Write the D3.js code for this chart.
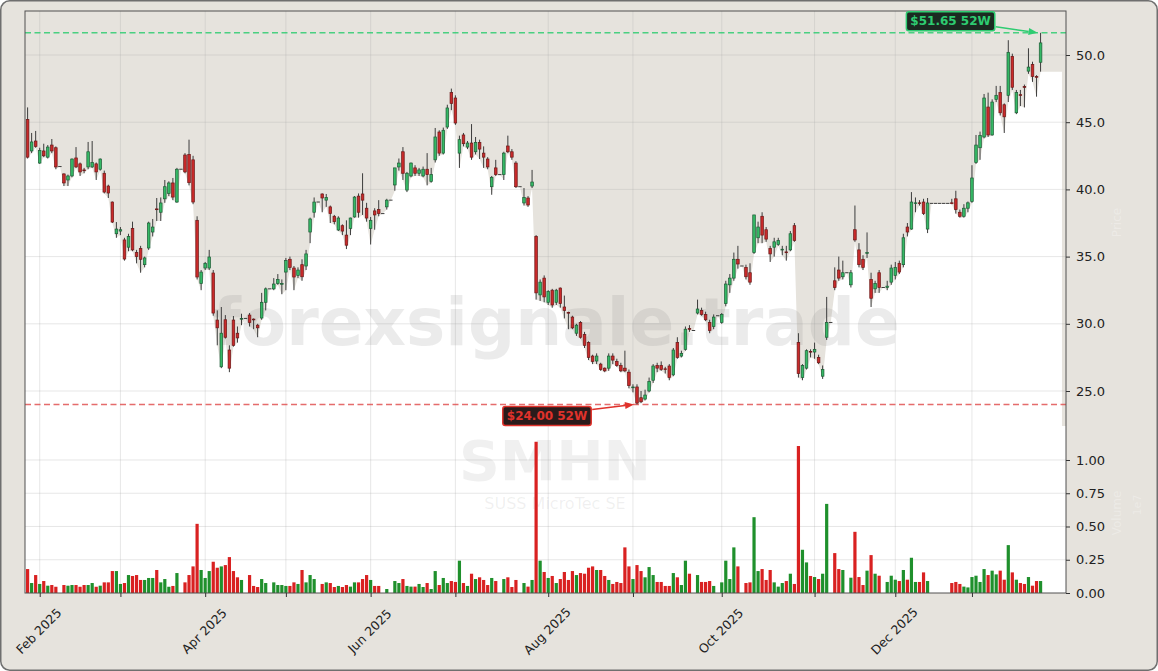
<!DOCTYPE html>
<html><head><meta charset="utf-8">
<script src="https://cdn.jsdelivr.net/npm/d3@7/dist/d3.min.js"></script>
<style>
html,body{margin:0;padding:0;background:#ffffff;}
svg{display:block;font-family:"DejaVu Sans","Liberation Sans",sans-serif;}
</style>
</head><body>
<svg id="chart" width="1158" height="671"></svg>
<script>
// ---------------- DATA ----------------
const startDate = "2025-01-29";
const holidays = ["2025-04-18","2025-04-21","2025-05-01","2025-12-24","2025-12-25","2025-12-26","2025-12-31","2026-01-01"];

const openP = [45.2,42.86,43.6,41.96,42.86,42.4,43.3,43.1,41.7,41.15,40.7,41.0,42.34,41.9,41.45,41.67,41.67,41.9,41.5,41.2,
40.25,39.06,36.7,36.9,36.24,35.7,37.1,35.3,35.6,34.4,35.64,36.83,38.55,38.3,39.3,39.7,40.48,39.06,41.5,42.56,
42.6,42.2,37.7,33.0,34.15,34.15,33.78,30.28,26.8,30.3,28.05,30.28,29.3,30.35,30.4,30.65,30.35,29.9,30.43,31.6,
32.6,32.6,33.0,32.95,33.85,34.8,34.15,33.6,34.4,34.3,36.83,38.3,39.06,39.66,39.2,38.7,38.0,36.98,37.3,36.6,
37.1,37.95,39.5,39.66,38.6,37.1,38.4,38.5,38.2,38.7,39.2,40.33,41.67,42.8,39.95,41.0,41.6,41.2,41.0,41.5,
40.6,42.2,44.27,42.7,44.64,47.2,46.8,42.7,44.05,43.15,43.45,42.8,43.5,42.7,42.26,40.2,41.6,41.1,41.1,43.23,
42.8,41.96,40.2,38.99,39.36,40.25,36.5,32.15,33.4,31.6,32.5,31.6,32.66,31.25,30.85,30.5,29.3,30.1,29.2,28.6,
27.6,27.23,27.0,26.7,26.7,27.6,27.2,26.9,26.7,26.4,25.25,25.3,24.5,24.4,25.0,25.8,26.9,26.9,26.65,26.86,
26.2,28.6,27.6,28.1,29.65,29.5,30.8,31.0,30.7,30.1,29.8,30.6,30.1,31.5,32.9,33.4,34.8,34.3,34.2,33.8,
35.3,36.4,38.0,37.0,35.6,35.7,35.9,35.5,35.35,35.5,37.3,28.6,26.0,26.7,27.95,27.9,27.5,26.1,29.0,30.1,
33.2,34.0,33.5,33.8,32.9,37.0,35.5,34.8,35.25,33.3,32.6,33.8,32.7,32.7,33.1,33.6,34.5,34.4,37.2,37.05,
38.95,39.0,39.06,37.05,38.96,38.96,38.96,38.96,38.96,39.0,39.3,38.3,38.0,38.6,39.1,42.0,43.1,43.9,46.13,44.05,
46.7,47.2,46.3,47.0,49.9,45.7,47.05,47.65,48.8,49.3,48.4,49.46];

const highP = [46.1,44.2,44.35,43.1,43.4,43.3,43.75,43.2,41.7,41.2,41.1,42.3,43.15,42.0,41.6,43.53,43.6,42.0,42.3,41.4,
40.35,39.1,37.57,37.2,36.4,36.7,37.6,35.5,35.8,35.0,37.6,37.8,39.36,39.4,40.7,40.6,40.85,41.6,41.5,42.7,
43.7,42.5,38.0,34.0,34.6,35.5,34.0,31.0,31.25,30.65,28.4,30.58,29.8,30.75,30.4,30.8,30.4,30.0,32.3,32.7,
32.6,33.4,33.7,33.3,34.9,35.0,34.3,34.2,34.8,35.5,37.9,39.4,39.06,39.7,39.66,38.8,38.1,38.0,37.4,37.7,
37.9,39.5,39.7,41.2,39.0,37.95,38.6,39.2,38.2,39.3,39.2,41.6,42.3,43.15,41.3,42.0,41.8,41.6,41.7,42.7,
41.6,44.57,44.4,44.6,46.3,47.5,47.0,44.0,44.2,43.6,44.86,43.9,43.7,43.2,42.4,41.0,42.2,41.1,42.8,44.0,
43.0,42.1,40.2,40.1,39.5,41.45,36.6,33.3,33.6,32.5,32.6,32.6,32.7,32.1,30.9,30.6,30.0,30.2,29.4,28.7,
27.7,27.8,27.1,26.75,27.8,27.8,27.4,27.1,28.0,26.6,25.5,25.5,25.0,25.1,26.0,27.0,27.1,27.2,26.8,27.0,
28.2,29.0,28.0,29.8,29.9,29.5,31.8,31.2,30.9,30.3,30.7,30.6,30.8,33.2,33.7,35.3,35.8,34.3,34.4,34.5,
38.1,37.6,38.3,37.2,35.8,36.4,36.4,35.8,35.8,36.9,37.5,29.3,27.0,28.1,28.1,28.6,27.7,26.9,32.0,30.1,
34.2,35.0,34.7,33.8,34.0,38.8,36.0,35.1,36.8,33.8,33.2,34.0,32.7,33.2,34.4,34.6,34.7,36.7,37.5,39.8,
39.4,39.2,39.3,39.36,38.96,38.96,38.96,38.96,38.96,39.3,39.9,38.5,38.9,39.1,41.8,44.05,44.3,47.1,47.2,46.7,
47.7,47.7,46.4,51.1,50.1,47.4,47.4,47.8,50.5,49.5,48.5,51.65];

const lowP = [42.3,42.7,43.1,41.9,42.4,42.3,42.7,41.5,41.7,40.25,40.25,40.9,41.6,41.0,41.2,41.5,41.6,40.7,41.4,39.7,
39.36,37.5,36.4,36.6,34.7,35.4,35.4,34.5,33.8,34.2,35.5,36.5,37.65,37.65,39.0,39.5,39.2,39.0,41.5,41.2,
40.3,38.9,33.3,32.5,34.0,34.0,30.6,28.4,26.7,28.9,26.4,28.3,28.6,29.9,30.4,29.8,29.6,29.0,30.3,31.0,
32.6,32.5,32.9,32.2,32.5,34.0,32.5,33.4,33.2,34.0,36.0,37.9,39.06,38.3,38.7,37.5,37.4,36.9,36.6,35.56,
36.6,37.9,37.9,38.1,37.6,35.9,37.0,38.0,38.2,38.5,39.2,39.9,41.4,40.7,39.8,40.9,41.0,41.0,40.9,40.3,
40.5,42.0,42.5,42.6,44.5,45.9,44.8,41.6,43.2,43.0,42.2,42.6,42.26,41.6,41.5,39.6,41.0,41.1,40.7,42.7,
42.2,40.1,40.2,38.8,38.7,40.1,31.8,31.7,31.6,31.4,31.2,31.4,31.2,30.4,29.6,29.6,29.1,28.9,28.2,27.3,
27.0,27.0,26.5,26.4,26.5,27.0,26.8,26.4,26.4,25.2,24.9,24.0,24.1,24.3,24.9,25.6,26.4,26.5,26.3,25.8,
26.1,27.4,27.5,28.0,29.4,29.5,30.7,30.6,30.2,29.3,29.6,30.6,30.0,31.3,32.3,33.2,34.1,34.3,33.3,32.9,
35.2,36.0,36.0,36.1,34.6,35.0,35.8,35.1,34.7,35.4,36.1,26.0,25.8,26.6,27.5,27.4,27.0,25.9,28.8,30.1,
32.5,33.2,33.3,33.8,32.7,36.1,34.2,34.0,34.9,31.25,32.3,32.3,32.7,32.5,32.9,33.3,33.7,34.2,36.5,37.0,
38.3,38.8,38.1,36.75,38.96,38.96,38.96,38.96,38.96,38.9,38.2,37.9,37.9,38.3,39.0,41.9,42.2,43.8,43.9,44.0,
46.5,45.5,44.2,46.5,47.4,45.6,46.2,46.1,48.6,48.0,46.9,48.76];

const closeP = [42.4,43.53,43.2,42.9,42.5,43.15,42.86,41.67,41.7,40.48,41.0,42.26,41.67,41.3,41.4,42.8,42.0,41.3,42.26,39.8,
39.73,37.57,37.05,37.0,34.82,36.5,35.5,35.0,34.8,34.9,37.5,37.2,38.5,38.99,40.2,40.48,39.43,41.5,41.5,41.3,
40.5,39.06,33.48,33.85,34.5,34.97,30.8,29.7,29.3,29.0,26.7,28.4,28.95,30.4,30.4,30.1,30.3,29.7,31.6,32.6,
32.6,32.96,33.3,33.0,34.7,34.2,33.48,34.0,33.5,35.2,37.8,39.06,39.06,39.36,39.4,38.2,37.6,37.87,36.9,35.85,
37.87,39.43,38.3,39.2,37.87,37.7,38.1,38.2,38.2,39.2,39.2,41.6,41.96,41.2,41.2,41.96,41.2,41.45,41.5,41.1,
41.1,43.9,42.7,44.4,46.06,46.4,44.94,43.7,43.4,43.45,42.4,43.5,43.0,42.4,41.67,40.9,41.1,41.1,42.7,42.8,
42.4,40.2,40.2,39.4,38.84,40.55,32.3,33.1,32.0,32.4,31.4,32.5,31.5,31.0,30.8,29.7,29.9,29.0,28.4,27.5,
27.2,27.6,26.6,26.5,27.6,27.3,26.9,26.5,26.5,25.4,25.3,24.1,24.2,24.7,25.7,26.86,26.7,26.6,26.6,26.0,
28.05,27.5,27.8,29.6,29.6,29.5,31.1,30.7,30.3,29.5,30.5,30.6,30.7,32.96,33.4,34.8,34.45,34.3,33.5,33.1,
38.1,37.2,36.6,36.3,35.2,36.1,36.2,35.55,35.3,36.7,36.2,26.3,26.9,28.0,27.9,28.1,27.1,26.6,30.1,30.1,
32.7,33.4,33.8,33.8,33.8,36.24,34.4,34.2,35.3,31.9,33.0,32.7,32.7,32.8,34.15,34.2,33.85,36.4,36.83,39.06,
39.0,38.95,38.2,38.99,38.96,38.96,38.96,38.96,38.96,38.95,38.5,38.0,38.6,39.0,40.85,43.3,44.0,46.8,44.05,46.5,
47.0,45.7,45.4,50.2,47.6,47.2,47.0,47.6,49.1,48.4,48.35,50.9];

const volume = [0.18,0.075,0.135,0.068,0.09,0.055,0.06,0.047,0,0.06,0.055,0.06,0.06,0.047,0.06,0.06,0.075,0.047,0.055,0.08,
0.08,0.165,0.165,0.068,0.075,0.135,0.128,0.135,0.098,0.098,0.113,0.113,0.173,0.08,0.105,0.047,0.053,0.15,0,0.08,
0.135,0.2,0.52,0.173,0.113,0.165,0.235,0.19,0.2,0.21,0.27,0.165,0.118,0.098,0,0.135,0.053,0.045,0.105,0.075,
0,0.08,0.06,0.06,0.053,0.053,0.08,0.068,0.173,0.08,0.135,0.105,0,0.068,0.08,0.075,0.045,0.053,0.045,0.06,
0.048,0.08,0.08,0.105,0.135,0.098,0.053,0.053,0,0.03,0,0.09,0.075,0.105,0.053,0.048,0.048,0.068,0.045,0.075,
0.03,0.165,0.06,0.113,0.075,0.09,0.083,0.243,0.075,0.053,0.145,0.105,0.118,0.098,0.06,0.113,0.09,0,0.105,0.118,
0.045,0.098,0,0.075,0.048,0.098,1.137,0.243,0.158,0.113,0.128,0.075,0.105,0.158,0.098,0.165,0.135,0.15,0.145,0.19,
0.2,0.173,0.173,0.128,0.098,0.068,0.083,0.075,0.343,0.2,0.105,0.21,0.165,0.118,0.195,0.135,0.083,0.083,0.053,0.053,
0.15,0.118,0.06,0.243,0.145,0,0.135,0.083,0.083,0.09,0.053,0,0.08,0.243,0.105,0.343,0.2,0,0.075,0.08,
0.57,0.165,0.18,0.098,0.173,0.08,0.048,0.075,0.09,0.145,0.068,1.105,0.325,0.23,0.128,0.12,0.105,0.145,0.67,0,
0.3,0.18,0.173,0,0.115,0.46,0.12,0.06,0.168,0.285,0.145,0.13,0,0.083,0.13,0.1,0.09,0.173,0.1,0.265,
0.083,0.083,0.155,0.09,0,0,0,0,0,0.075,0.083,0.068,0.048,0.042,0.12,0.13,0.083,0.18,0.135,0.168,
0.14,0.168,0.1,0.36,0.155,0.1,0.075,0.068,0.12,0.055,0.09,0.09];

const priceTicks = [25, 30, 35, 40, 45, 50];
const volumeTicks = [0, 0.25, 0.5, 0.75, 1.0];
const labelMonths = [1, 3, 5, 7, 9, 11]; // Feb, Apr, Jun, Aug, Oct, Dec get a label
const high52 = 51.65, low52 = 24.00;
const ticker = "SMHN", companyName = "SUSS MicroTec SE", watermark = "forexsignale.trade";

// ---------------- BUILD ----------------
const N = openP.length;
const parse = d3.timeParse("%Y-%m-%d"), fmtISO = d3.timeFormat("%Y-%m-%d");
const dates = [];
{
  let d = parse(startDate);
  while (dates.length < N) {
    const wd = d.getDay();
    if (wd !== 0 && wd !== 6 && !holidays.includes(fmtISO(d))) dates.push(new Date(d));
    d = d3.timeDay.offset(d, 1);
  }
}
const tickIdx = [];
for (let i = 1; i < N; i++) if (dates[i].getMonth() !== dates[i-1].getMonth()) tickIdx.push(i);
const fmtLabel = d3.timeFormat("%b %Y");

const bars = d3.range(N).map(i => ({i, o: openP[i], h: highP[i], l: lowP[i], c: closeP[i], v: volume[i]}));

const W = 1158, H = 671;
const L = 25, R = 1066, T = 11, PB = 426, VB = 593;
const BG = "#e6e3dd";

const x = d3.scaleLinear().domain([-0.644, 257.3]).range([L, R]);
const yP = d3.scaleLinear().domain([22.396, 53.274]).range([PB, T]);
const yV = d3.scaleLinear().domain([0, 1.2556]).range([VB, PB]);

const svg = d3.select("#chart");
const defs = svg.append("defs");
defs.append("clipPath").attr("id", "clipP").append("rect").attr("x", L).attr("y", T).attr("width", R - L).attr("height", PB - T);
defs.append("clipPath").attr("id", "clipV").append("rect").attr("x", L).attr("y", PB).attr("width", R - L).attr("height", VB - PB);

// figure background
svg.append("rect").attr("x", 0.75).attr("y", 0.75).attr("width", W - 1.5).attr("height", H - 1.5)
  .attr("rx", 9).attr("fill", BG).attr("stroke", "#6f6f6f").attr("stroke-width", 1.5);

// price panel background (beige) + white area under lows
svg.append("rect").attr("x", L).attr("y", T).attr("width", R - L).attr("height", PB - T).attr("fill", BG);
const areaPts = [{i: -0.644, l: lowP[0]}].concat(bars.map(b => ({i: b.i, l: b.l}))).concat([{i: N - 1 + 5.3, l: lowP[N-1]}]);
svg.append("path").attr("clip-path", "url(#clipP)")
  .attr("d", d3.area().x(d => x(d.i)).y0(PB).y1(d => yP(d.l))(areaPts))
  .attr("fill", "#ffffff");

// volume panel background
svg.append("rect").attr("x", L).attr("y", PB).attr("width", R - L).attr("height", VB - PB).attr("fill", "#ffffff");

// grid
const grid = svg.append("g").attr("stroke", "#a8a8a8").attr("stroke-opacity", 0.35).attr("stroke-width", 0.8);
grid.selectAll(".gp").data(priceTicks).join("line")
  .attr("x1", L).attr("x2", R).attr("y1", d => yP(d)).attr("y2", d => yP(d));
grid.selectAll(".gv").data(volumeTicks.filter(v => v > 0)).join("line").attr("class", "gv")
  .attr("x1", L).attr("x2", R).attr("y1", d => yV(d)).attr("y2", d => yV(d));
grid.selectAll(".gx").data(tickIdx).join("line").attr("class", "gx")
  .attr("x1", d => x(d)).attr("x2", d => x(d)).attr("y1", T).attr("y2", VB);

// watermarks
const wm = svg.append("g").attr("text-anchor", "middle").attr("pointer-events", "none");
wm.append("text").attr("x", 556).attr("y", 345).attr("font-size", 66).attr("font-weight", "bold")
  .attr("fill", "#808080").attr("fill-opacity", 0.16).text(watermark);
wm.append("text").attr("x", 555).attr("y", 480).attr("font-size", 56).attr("font-weight", "bold")
  .attr("textLength", 192).attr("lengthAdjust", "spacingAndGlyphs")
  .attr("fill", "#808080").attr("fill-opacity", 0.12).text(ticker);
wm.append("text").attr("x", 555).attr("y", 509).attr("font-size", 16)
  .attr("fill", "#808080").attr("fill-opacity", 0.12).text(companyName);

// 52W lines
svg.append("line").attr("x1", L).attr("x2", R).attr("y1", yP(high52)).attr("y2", yP(high52))
  .attr("stroke", "#2ecc71").attr("stroke-opacity", 0.85).attr("stroke-width", 1.5).attr("stroke-dasharray", "6,3.5");
svg.append("line").attr("x1", L).attr("x2", R).attr("y1", yP(low52)).attr("y2", yP(low52))
  .attr("stroke", "#e05252").attr("stroke-opacity", 0.85).attr("stroke-width", 1.5).attr("stroke-dasharray", "6,3.5");

// candles
const cg = svg.append("g").attr("clip-path", "url(#clipP)");
const bw = 2.6;
cg.selectAll(".wick").data(bars.filter(b => b.h !== b.l)).join("line")
  .attr("x1", b => x(b.i)).attr("x2", b => x(b.i))
  .attr("y1", b => yP(b.h)).attr("y2", b => yP(b.l))
  .attr("stroke", "#3c3c3c").attr("stroke-width", 1);
cg.selectAll(".body").data(bars.filter(b => b.o !== b.c)).join("rect")
  .attr("x", b => x(b.i) - bw / 2)
  .attr("y", b => yP(Math.max(b.o, b.c)))
  .attr("width", bw)
  .attr("height", b => Math.max(0.8, Math.abs(yP(b.o) - yP(b.c))))
  .attr("fill", b => b.c > b.o ? "#35b865" : "#c92a2a")
  .attr("stroke", b => b.c > b.o ? "#1d5b35" : "#6b1818")
  .attr("stroke-width", 0.7);
cg.selectAll(".flat").data(bars.filter(b => b.o === b.c)).join("line")
  .attr("x1", b => x(b.i) - 1.7).attr("x2", b => x(b.i) + 1.7)
  .attr("y1", b => yP(b.c)).attr("y2", b => yP(b.c))
  .attr("stroke", "#3c3c3c").attr("stroke-width", 1);

// volume bars
const vg = svg.append("g").attr("clip-path", "url(#clipV)");
const vw = 3.2;
vg.selectAll("rect").data(bars.filter(b => b.v > 0)).join("rect")
  .attr("x", b => x(b.i) - vw / 2).attr("width", vw)
  .attr("y", b => yV(b.v)).attr("height", b => yV(0) - yV(b.v))
  .attr("fill", b => b.c >= b.o ? "#1f902c" : "#d92121");

// spines
svg.append("rect").attr("x", L).attr("y", T).attr("width", R - L).attr("height", VB - T)
  .attr("fill", "none").attr("stroke", "#505050").attr("stroke-width", 1);

// right axes
const axP = svg.append("g").attr("transform", `translate(${R},0)`)
  .call(d3.axisRight(yP).tickValues(priceTicks).tickFormat(d3.format(".1f")).tickSizeInner(4).tickSizeOuter(0).tickPadding(6));
const axV = svg.append("g").attr("transform", `translate(${R},0)`)
  .call(d3.axisRight(yV).tickValues(volumeTicks).tickFormat(d3.format(".2f")).tickSizeInner(4).tickSizeOuter(0).tickPadding(6));
[axP, axV].forEach(a => {
  a.select(".domain").remove();
  a.selectAll("line").attr("stroke", "#333");
  a.selectAll("text").attr("font-size", 13).attr("fill", "#222").attr("font-family", "DejaVu Sans");
});

// bottom axis
const axX = svg.append("g").attr("transform", `translate(0,${VB})`)
  .call(d3.axisBottom(x).tickValues(tickIdx).tickFormat("").tickSizeInner(4).tickSizeOuter(0));
axX.select(".domain").remove();
axX.selectAll("line").attr("stroke", "#333");
svg.append("g").selectAll("text").data(tickIdx.filter(i => labelMonths.includes(dates[i].getMonth()))).join("text")
  .attr("transform", i => `translate(${x(i) - 1},631) rotate(-45)`)
  .attr("text-anchor", "middle").attr("dominant-baseline", "central")
  .attr("font-size", 12.5).attr("fill", "#222")
  .text(i => fmtLabel(dates[i]));

// faint axis labels
svg.append("text").attr("transform", `translate(1121,${(T + PB) / 2 + 4}) rotate(-90)`).attr("text-anchor", "middle")
  .attr("font-size", 12).attr("fill", "#ffffff").attr("fill-opacity", 0.28).text("Price");
svg.append("text").attr("transform", `translate(1121,513) rotate(-90)`).attr("text-anchor", "middle")
  .attr("font-size", 12).attr("fill", "#ffffff").attr("fill-opacity", 0.28).text("Volume");
svg.append("text").attr("transform", `translate(1141,505) rotate(-90)`).attr("text-anchor", "middle")
  .attr("font-size", 11).attr("fill", "#ffffff").attr("fill-opacity", 0.28).text("1e7");

// annotations
function arrow(x1, y1, x2, y2, color) {
  const a = Math.atan2(y2 - y1, x2 - x1), hl = 9, hw = 3.6;
  const bx = x2 - hl * Math.cos(a), by = y2 - hl * Math.sin(a);
  svg.append("line").attr("x1", x1).attr("y1", y1).attr("x2", bx).attr("y2", by)
    .attr("stroke", color).attr("stroke-width", 1.6);
  svg.append("path").attr("d", `M${x2},${y2}L${bx + hw * Math.sin(a)},${by - hw * Math.cos(a)}L${bx - hw * Math.sin(a)},${by + hw * Math.cos(a)}Z`)
    .attr("fill", color);
}
function badge(cx, cy, text, color, fill) {
  const g = svg.append("g");
  const t = g.append("text").attr("x", cx).attr("y", cy).attr("text-anchor", "middle").attr("dominant-baseline", "central")
    .attr("font-size", 12).attr("font-weight", "bold").attr("fill", color).text(text);
  const bb = t.node().getBBox();
  g.insert("rect", "text").attr("x", bb.x - 4).attr("y", cy - 9.5).attr("width", bb.width + 8).attr("height", 19)
    .attr("rx", 2.5).attr("fill", fill).attr("stroke", color).attr("stroke-width", 1.5);
  return {right: bb.x + bb.width + 4};
}
const hiIdx = d3.maxIndex(highP), loIdx = d3.minIndex(lowP);
const hiTip = [x(hiIdx) - 3, yP(high52)];
const loTip = [x(loIdx) - 3, yP(low52)];
const hb = badge(hiTip[0] - 87, hiTip[1] - 11.5, `$${high52.toFixed(2)} 52W`, "#2ecc71", "#1b2a21");
arrow(hb.right + 1, hiTip[1] - 6, hiTip[0], hiTip[1], "#2ecc71");
const lb = badge(loTip[0] - 87, loTip[1] + 11.5, `$${low52.toFixed(2)} 52W`, "#e0322b", "#2a1b1b");
arrow(lb.right + 1, loTip[1] + 5, loTip[0], loTip[1], "#e0322b");
</script>
</body></html>
